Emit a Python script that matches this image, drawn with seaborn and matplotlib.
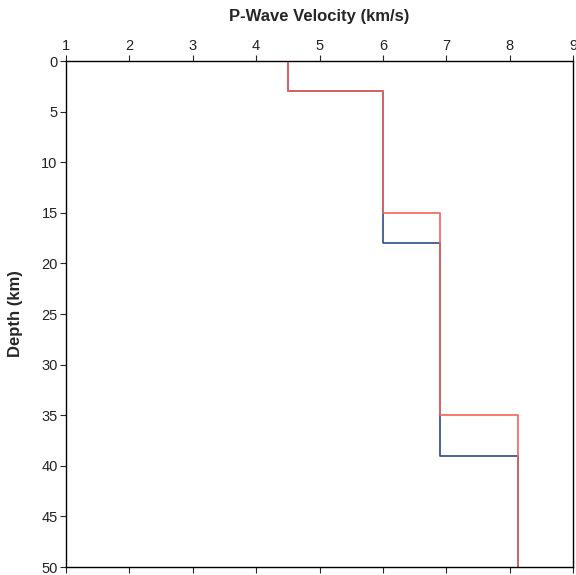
import numpy as np
import pandas as pd
import matplotlib
matplotlib.use("Agg")
import matplotlib.pyplot as plt
import seaborn as sns

# layer model: top depth (km) and P-wave velocity (km/s) of each layer
model_a_tops = [0, 3, 18, 39]
model_a_vp = [4.5, 6.0, 6.9, 8.13]
model_b_tops = [0, 3, 15, 35]
model_b_vp = [4.5, 6.0, 6.9, 8.13]
max_depth = 50

x_ticks = [1, 2, 3, 4, 5, 6, 7, 8, 9]
y_ticks = [0, 5, 10, 15, 20, 25, 30, 35, 40, 45, 50]


def step_profile(tops, vp, bottom):
    # turn layer tops + velocities into a stepped profile
    depth, vel = [], []
    bases = tops[1:] + [bottom]
    for top, base, v in zip(tops, bases, vp):
        depth += [top, base]
        vel += [v, v]
    return pd.DataFrame({"vp": vel, "depth": depth})


sns.set_style("white")
plt.rcParams["font.family"] = ["Liberation Sans", "DejaVu Sans"]

fig = plt.figure(figsize=(5.76, 5.75), dpi=100)
ax = fig.add_axes([0.1146, 0.0139, 0.8802, 0.88])

df_a = step_profile(model_a_tops, model_a_vp, max_depth)
df_b = step_profile(model_b_tops, model_b_vp, max_depth)

sns.lineplot(data=df_a, x="vp", y="depth", sort=False, estimator=None,
             color="#2b4c8c", linewidth=1.2, ax=ax)
sns.lineplot(data=df_b, x="vp", y="depth", sort=False, estimator=None,
             color="#f0645a", linewidth=1.2, ax=ax)

ax.set_xlim(1, 9)
ax.set_ylim(max_depth, 0)
ax.set_xticks(x_ticks)
ax.set_yticks(y_ticks)
ax.xaxis.set_label_position("top")
ax.tick_params(axis="x", top=True, bottom=True, labeltop=True, labelbottom=False,
               direction="out", length=4, width=0.8, labelsize=10.5, pad=2,
               labelcolor="#222222")
ax.tick_params(axis="y", left=True, right=False, direction="out", length=4,
               width=0.8, labelsize=10.5, pad=2, labelcolor="#222222")
ax.set_xlabel("P-Wave Velocity (km/s)", fontsize=12, fontweight="bold", labelpad=13)
ax.set_ylabel("Depth (km)", fontsize=12, fontweight="bold", labelpad=13)

for s in ax.spines.values():
    s.set_color("black")
    s.set_linewidth(1.0)

fig.savefig("out.png", dpi=100)
